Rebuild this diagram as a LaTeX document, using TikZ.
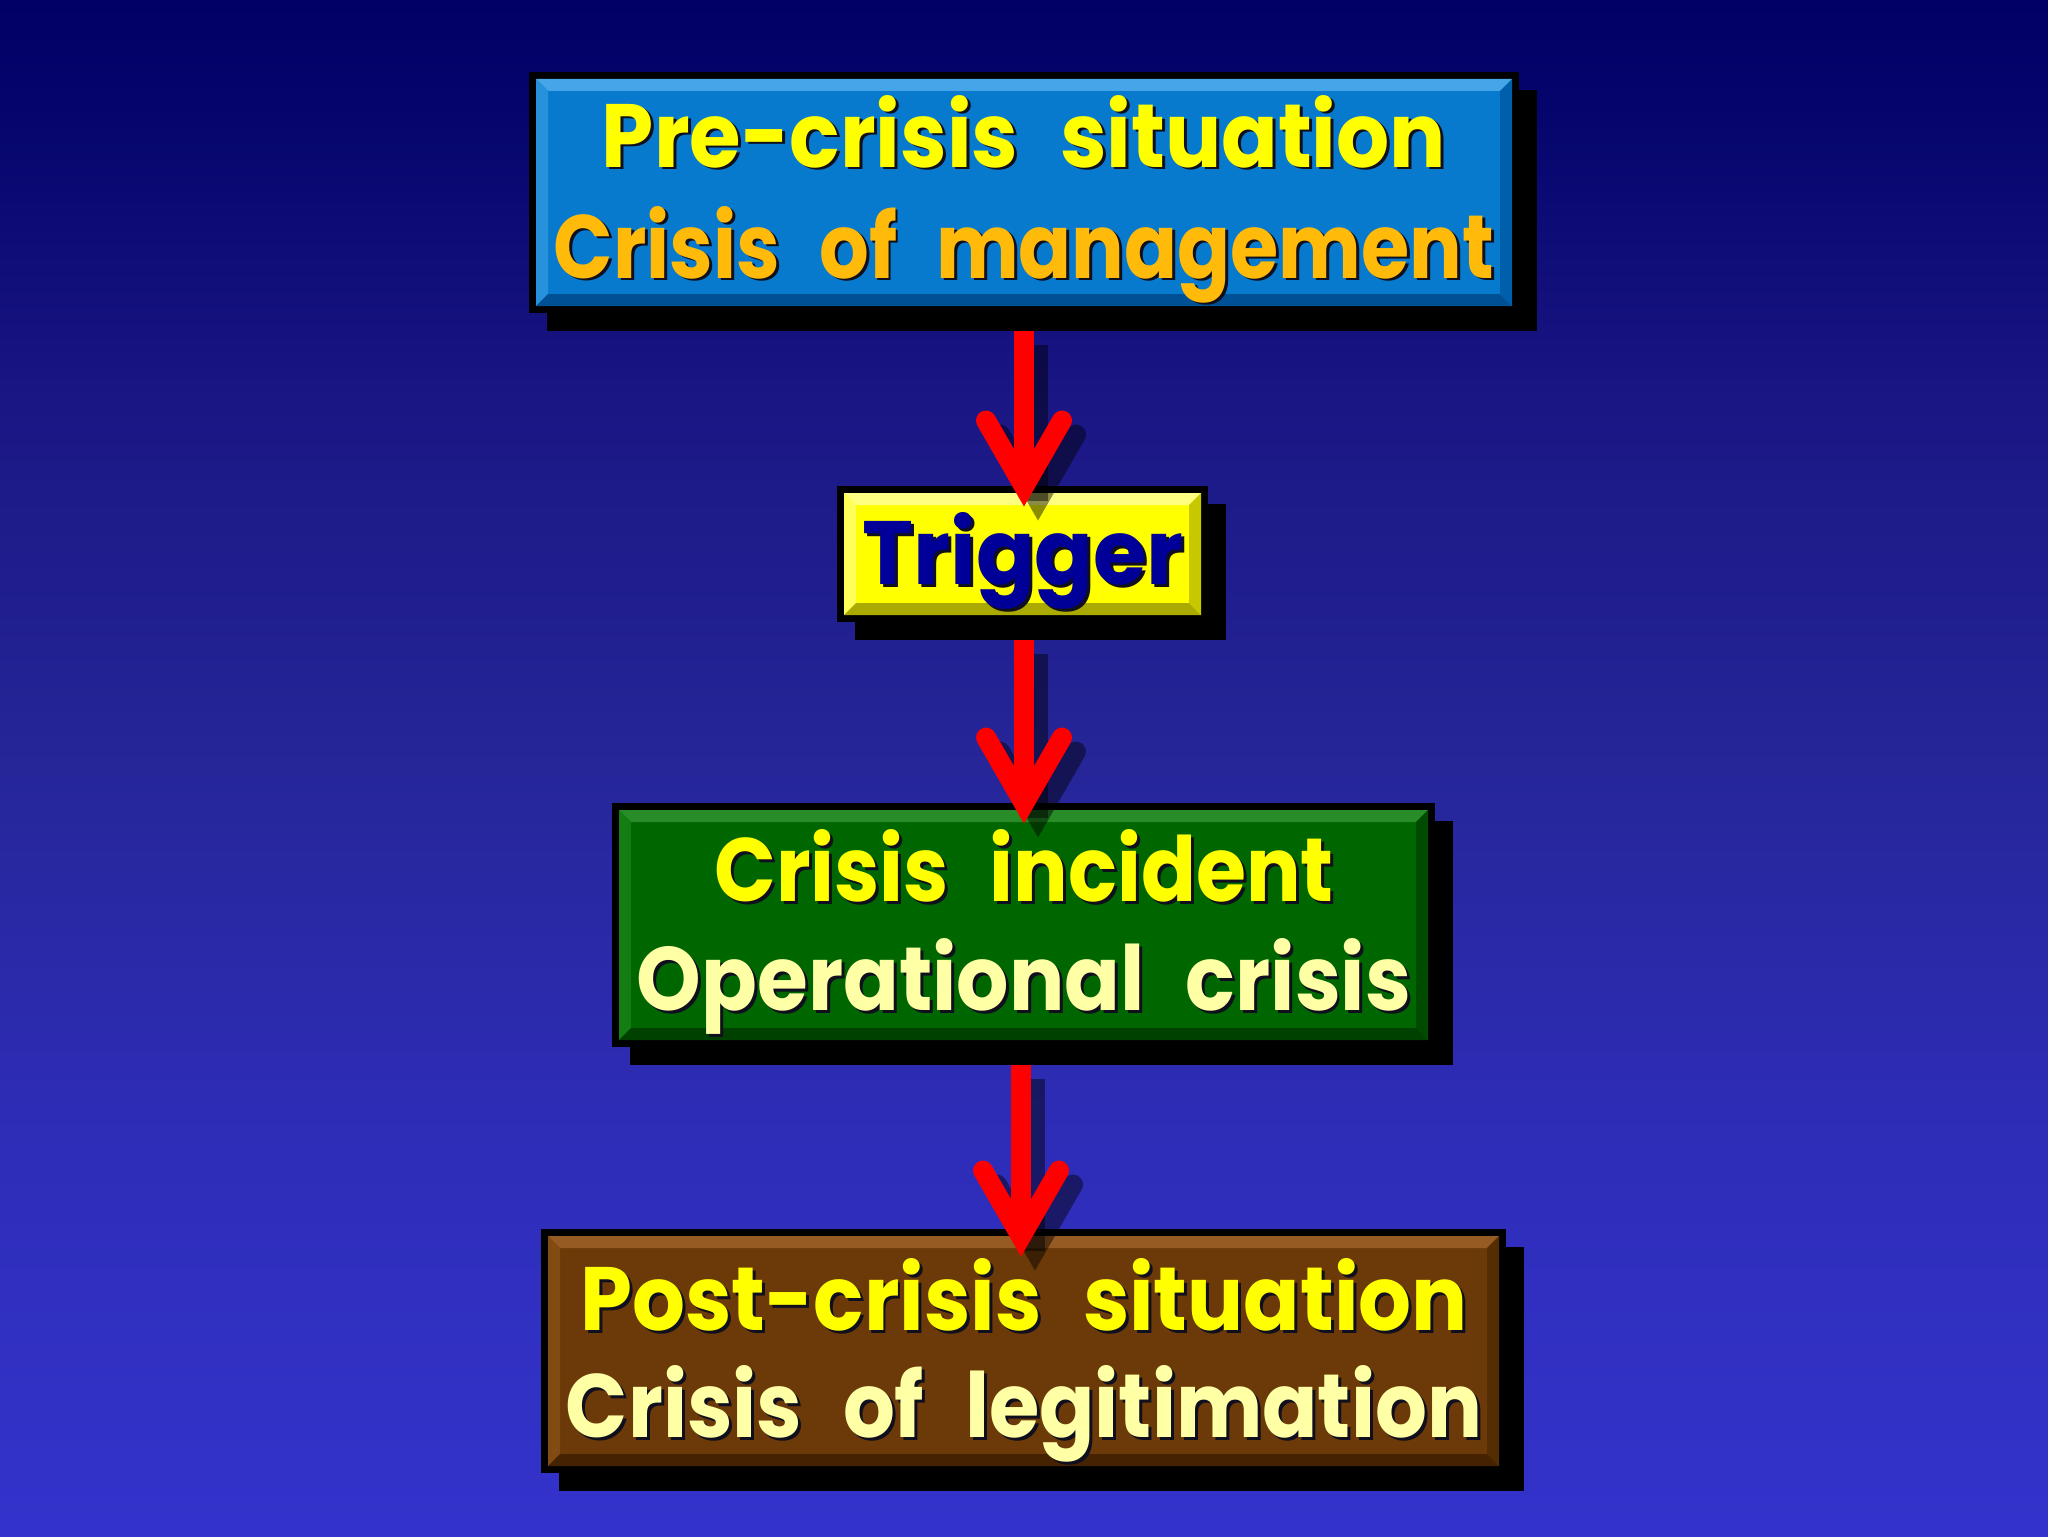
\documentclass[tikz,border=0pt]{standalone}
\usepackage{fontspec}
\usepackage{graphicx}
\newfontfamily\comic{Poppins}
\usetikzlibrary{calc}

\definecolor{bgA}{RGB}{0,0,102}
\definecolor{bgB}{RGB}{4,4,108}
\definecolor{bgC}{RGB}{26,22,132}
\definecolor{bgD}{RGB}{38,38,153}
\definecolor{bgE}{RGB}{46,45,185}
\definecolor{bgF}{RGB}{51,51,204}

\definecolor{blueF}{RGB}{8,122,205}
\definecolor{blueT}{RGB}{70,165,230}
\definecolor{blueL}{RGB}{40,145,220}
\definecolor{blueB}{RGB}{0,80,150}
\definecolor{blueR}{RGB}{0,95,170}

\definecolor{yelF}{RGB}{255,255,0}
\definecolor{yelT}{RGB}{255,255,130}
\definecolor{yelL}{RGB}{255,255,90}
\definecolor{yelB}{RGB}{170,170,0}
\definecolor{yelR}{RGB}{200,200,0}

\definecolor{grnF}{RGB}{0,102,0}
\definecolor{grnT}{RGB}{40,140,40}
\definecolor{grnL}{RGB}{20,125,20}
\definecolor{grnB}{RGB}{0,65,0}
\definecolor{grnR}{RGB}{0,75,0}

\definecolor{brnF}{RGB}{107,58,8}
\definecolor{brnT}{RGB}{150,90,35}
\definecolor{brnL}{RGB}{130,75,20}
\definecolor{brnB}{RGB}{70,35,0}
\definecolor{brnR}{RGB}{85,45,5}

\definecolor{txtY}{RGB}{255,255,0}
\definecolor{txtO}{RGB}{255,186,10}
\definecolor{txtP}{RGB}{255,255,165}
\definecolor{txtN}{RGB}{0,0,153}
\definecolor{txtS}{RGB}{15,15,30}
\definecolor{arrRed}{RGB}{255,0,0}

\pgfdeclareverticalshading{bgshade}{100bp}{color(0bp)=(bgF); color(25bp)=(bgF); color(37.5bp)=(bgE); color(50bp)=(bgD); color(62bp)=(bgC); color(71.7bp)=(bgB); color(75bp)=(bgA); color(100bp)=(bgA)}

\newcommand\wsp{\hspace{0.5em}}
\newcommand\shtxt[3]{\rlap{\kern1.5pt\raisebox{-1.5pt}{\color{txtS}\resizebox{#2}{36pt}{\vphantom{l}#3}}}{\color{#1}\resizebox{#2}{36pt}{\vphantom{l}#3}}}

\newcommand\bevel[5]{%
\fill[#2] ($(#1.north west)+(3.5,3.5)$) -- ($(#1.north east)+(-3.5,3.5)$) -- ($(#1.north east)+(-15.5,15.5)$) -- ($(#1.north west)+(15.5,15.5)$) -- cycle;
\fill[#3] ($(#1.north west)+(3.5,3.5)$) -- ($(#1.north west)+(15.5,15.5)$) -- ($(#1.south west)+(15.5,-15.5)$) -- ($(#1.south west)+(3.5,-3.5)$) -- cycle;
\fill[#4] ($(#1.south west)+(3.5,-3.5)$) -- ($(#1.south west)+(15.5,-15.5)$) -- ($(#1.south east)+(-15.5,-15.5)$) -- ($(#1.south east)+(-3.5,-3.5)$) -- cycle;
\fill[#5] ($(#1.north east)+(-3.5,3.5)$) -- ($(#1.south east)+(-3.5,-3.5)$) -- ($(#1.south east)+(-15.5,-15.5)$) -- ($(#1.north east)+(-15.5,15.5)$) -- cycle;
}

\tikzset{
  boxst/.style={draw=black, line width=3.5pt, inner sep=0pt, outer sep=0pt},
  shadowst/.style={fill=black, draw=none, inner sep=0pt, outer sep=0pt},
  txtst/.style={anchor=base, inner sep=0pt, outer sep=0pt, font=\comic\bfseries},
  shaftst/.style={draw=arrRed, line width=10pt, line cap=butt},
  headst/.style={draw=arrRed, line width=10pt, line cap=round, line join=miter},
  ashadow/.style={draw=black, draw opacity=0.45, line width=10pt},
}

\begin{document}
\begin{tikzpicture}[x=0.5pt,y=-0.5pt]
\useasboundingbox (0,0) rectangle (2048,1536);
\shade[shading=bgshade] (0,0) rectangle (2048,1536);

% shadows
\node[shadowst, minimum width=495pt, minimum height=120.5pt] (preS) at (1042,210.5) {};
\node[shadowst, minimum width=185.5pt, minimum height=68pt] (trigS) at (1040.5,572) {};
\node[shadowst, minimum width=411.5pt, minimum height=122pt] (incS) at (1041.5,943) {};
\node[shadowst, minimum width=482.5pt, minimum height=122pt] (postS) at (1041.5,1369) {};

% boxes
\node[boxst, fill=blueF, minimum width=491.5pt, minimum height=117pt] (pre) at (1024,192.5) {};
\bevel{pre}{blueT}{blueL}{blueB}{blueR}
\node[boxst, fill=yelF, minimum width=182pt, minimum height=64.5pt] (trig) at (1022.5,554) {};
\bevel{trig}{yelT}{yelL}{yelB}{yelR}
\node[boxst, fill=grnF, minimum width=408pt, minimum height=118.5pt] (inc) at (1023.5,925) {};
\bevel{inc}{grnT}{grnL}{grnB}{grnR}
\node[boxst, fill=brnF, minimum width=479pt, minimum height=118.5pt] (post) at (1023.5,1351) {};
\bevel{post}{brnT}{brnL}{brnB}{brnR}

% texts
\node[txtst] (pre1) at (1024,167) {\shtxt{txtY}{422pt}{Pre-crisis\wsp situation}};
\node[txtst] (pre2) at (1024,278) {\shtxt{txtO}{470pt}{Crisis\wsp of\wsp management}};
\node[txtst] (trig1) at (1023,584) {\shtxt{txtN}{160.5pt}{Trigger}};
\node[txtst] (inc1) at (1024,901) {\shtxt{txtY}{309.5pt}{Crisis\wsp incident}};
\node[txtst] (inc2) at (1024,1010) {\shtxt{txtP}{387pt}{Operational\wsp crisis}};
\node[txtst] (post1) at (1024,1330) {\shtxt{txtY}{443.5pt}{Post-crisis\wsp situation}};
\node[txtst] (post2) at (1024,1437) {\shtxt{txtP}{458pt}{Crisis\wsp of\wsp legitimation}};

% arrow coordinates
\coordinate (a1s) at (pre.south |- preS.south);
\coordinate (a1v) at ($(a1s |- trig.north)+(0,-3)$);
\coordinate (a2s) at (a1s |- trigS.south);
\coordinate (a2v) at ($(a2s |- inc.north)+(0,-3)$);
\coordinate (a3s) at ($(a1s |- incS.south)+(-3,0)$);
\coordinate (a3v) at ($(a3s |- post.north)+(0,4)$);

% arrow shadows
\begin{scope}[transform canvas={shift={(14,14)}}]
\foreach \s/\v in {a1s/a1v,a2s/a2v,a3s/a3v}{
  \draw[ashadow, line cap=butt] (\s) -- (\v);
  \draw[ashadow, line cap=round, line join=miter] ($(\v)+(-38,-66)$) -- (\v) -- ($(\v)+(38,-66)$);
}
\end{scope}

% arrows
\foreach \s/\v in {a1s/a1v,a2s/a2v,a3s/a3v}{
  \draw[shaftst] (\s) -- (\v);
  \draw[headst] ($(\v)+(-38,-66)$) -- (\v) -- ($(\v)+(38,-66)$);
}
\end{tikzpicture}
\end{document}
